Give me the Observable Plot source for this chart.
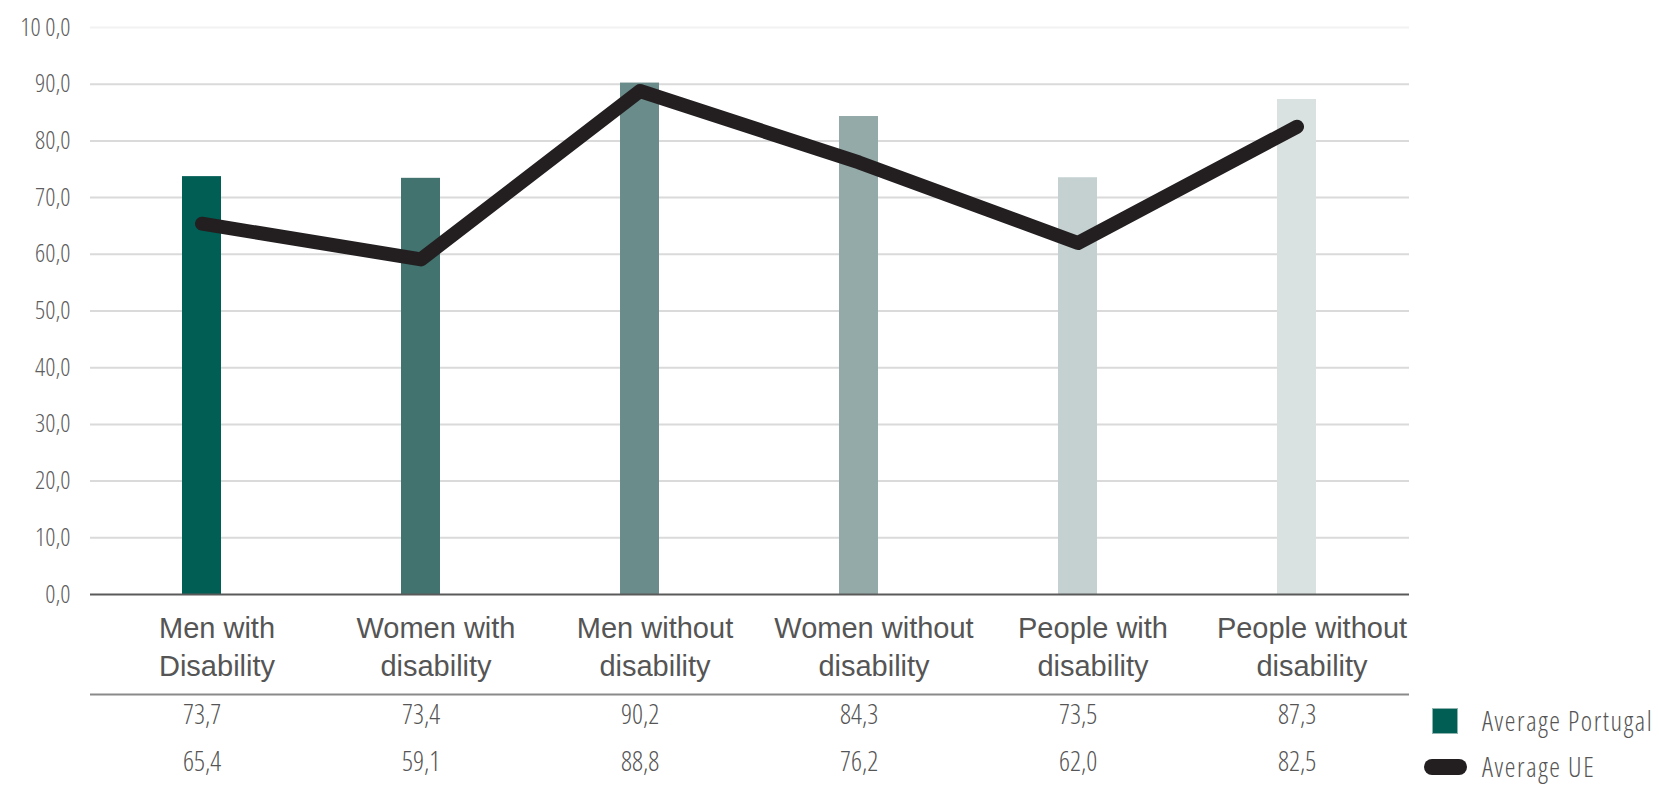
<!DOCTYPE html>
<html>
<head>
<meta charset="utf-8">
<script src="https://cdn.jsdelivr.net/npm/d3@7"></script>
<script src="https://cdn.jsdelivr.net/npm/@observablehq/plot@0.6"></script>
<style>
  html, body { margin: 0; padding: 0; background: #fff; }
  #wrap { position: relative; width: 1659px; height: 787px; overflow: hidden; }
  #wrap svg { font-family: "Open Sans", sans-serif; font-stretch: 75%; font-weight: 300; }
  .legend-item { position: absolute; display: flex; align-items: center; font-family: "Open Sans", sans-serif; font-stretch: 75%; font-weight: 300; font-size: 27px; line-height: 27px; letter-spacing: 1.6px; color: #555; white-space: nowrap; }
  .sw-bar { width: 24px; height: 24px; background: #005e55; border: 1px solid #8fb3ae; margin-right: 24px; }
  .sw-line { width: 43px; height: 16px; border-radius: 8px; background: #231f20; margin-right: 15px; }
</style>
</head>
<body>
<div id="wrap"></div>
<script>
const categories = ["Men with Disability", "Women with disability", "Men without disability", "Women without disability", "People with disability", "People without disability"];
const categoryLabels = ["Men with\nDisability", "Women with\ndisability", "Men without\ndisability", "Women without\ndisability", "People with\ndisability", "People without\ndisability"];
const averagePortugal = [73.7, 73.4, 90.2, 84.3, 73.5, 87.3];
const averageUE = [65.4, 59.1, 88.8, 76.2, 62.0, 82.5];
const barColors = ["#005e55", "#42736f", "#6a8c8a", "#94aaa9", "#c4d1d0", "#dae2e1"];
const yTicks = [0, 10, 20, 30, 40, 50, 60, 70, 80, 90, 100];
const yTickLabels = ["0,0", "10,0", "20,0", "30,0", "40,0", "50,0", "60,0", "70,0", "80,0", "90,0", "10 0,0"];
const seriesNames = ["Average Portugal", "Average UE"];

const fmt = v => v.toFixed(1).replace(".", ",");
const data = categories.map((c, i) => ({cat: c, label: categoryLabels[i], pt: averagePortugal[i], ue: averageUE[i]}));
const labelOf = Object.fromEntries(data.map(d => [d.cat, d.label]));
const tickLabelOf = Object.fromEntries(yTicks.map((t, i) => [t, yTickLabels[i]]));

const chart = Plot.plot({
  width: 1659,
  height: 787,
  marginLeft: 90,
  marginRight: 250,
  marginTop: 27,
  marginBottom: 193,
  x: {domain: categories, paddingInner: 0.82, paddingOuter: 0.41},
  y: {domain: [0, 100]},
  color: {domain: categories, range: barColors},
  marks: [
    Plot.ruleY(yTicks.filter(t => t > 0 && t < 100), {stroke: "#dadada", strokeWidth: 2}),
    Plot.ruleY([100], {stroke: "#f2f2f2", strokeWidth: 2}),
    Plot.barY(data, {x: "cat", y: "pt", fill: "cat"}),
    Plot.ruleY([0], {stroke: "#5a5a5a", strokeWidth: 2}),
    Plot.lineY(data, {x: "cat", y: "ue", stroke: "#231f20", strokeWidth: 14, strokeLinecap: "round", strokeLinejoin: "round"}),
    Plot.axisY({ticks: yTicks, tickSize: 0, tickPadding: 20, fontSize: 25, fill: "#5f5f5f", tickFormat: t => tickLabelOf[t], label: null}),
    Plot.axisX({tickSize: 0, tickPadding: 17, dx: 15, fontSize: 29, lineHeight: 1.3, fill: "#555", fontFamily: "Liberation Sans, Arial, sans-serif", fontWeight: 400, tickFormat: c => labelOf[c], label: null}),
    Plot.ruleY([0], {dy: 100, stroke: "#8a8a8a", strokeWidth: 2}),
    Plot.text(data, {x: "cat", frameAnchor: "bottom", lineAnchor: "middle", dy: 121, text: d => fmt(d.pt), fontSize: 27, fill: "#555"}),
    Plot.text(data, {x: "cat", frameAnchor: "bottom", lineAnchor: "middle", dy: 168, text: d => fmt(d.ue), fontSize: 27, fill: "#555"})
  ]
});

d3.select(chart).selectAll('g[aria-label="x-axis tick label"] text').style("font-stretch", "normal");

const wrap = document.getElementById("wrap");
wrap.appendChild(chart);

const l1 = document.createElement("div");
l1.className = "legend-item";
l1.style.left = "1432px"; l1.style.top = "707px";
l1.innerHTML = '<div class="sw-bar"></div><span>' + seriesNames[0] + '</span>';
wrap.appendChild(l1);

const l2 = document.createElement("div");
l2.className = "legend-item";
l2.style.left = "1424px"; l2.style.top = "753px";
l2.innerHTML = '<div class="sw-line"></div><span>' + seriesNames[1] + '</span>';
wrap.appendChild(l2);
</script>
</body>
</html>
